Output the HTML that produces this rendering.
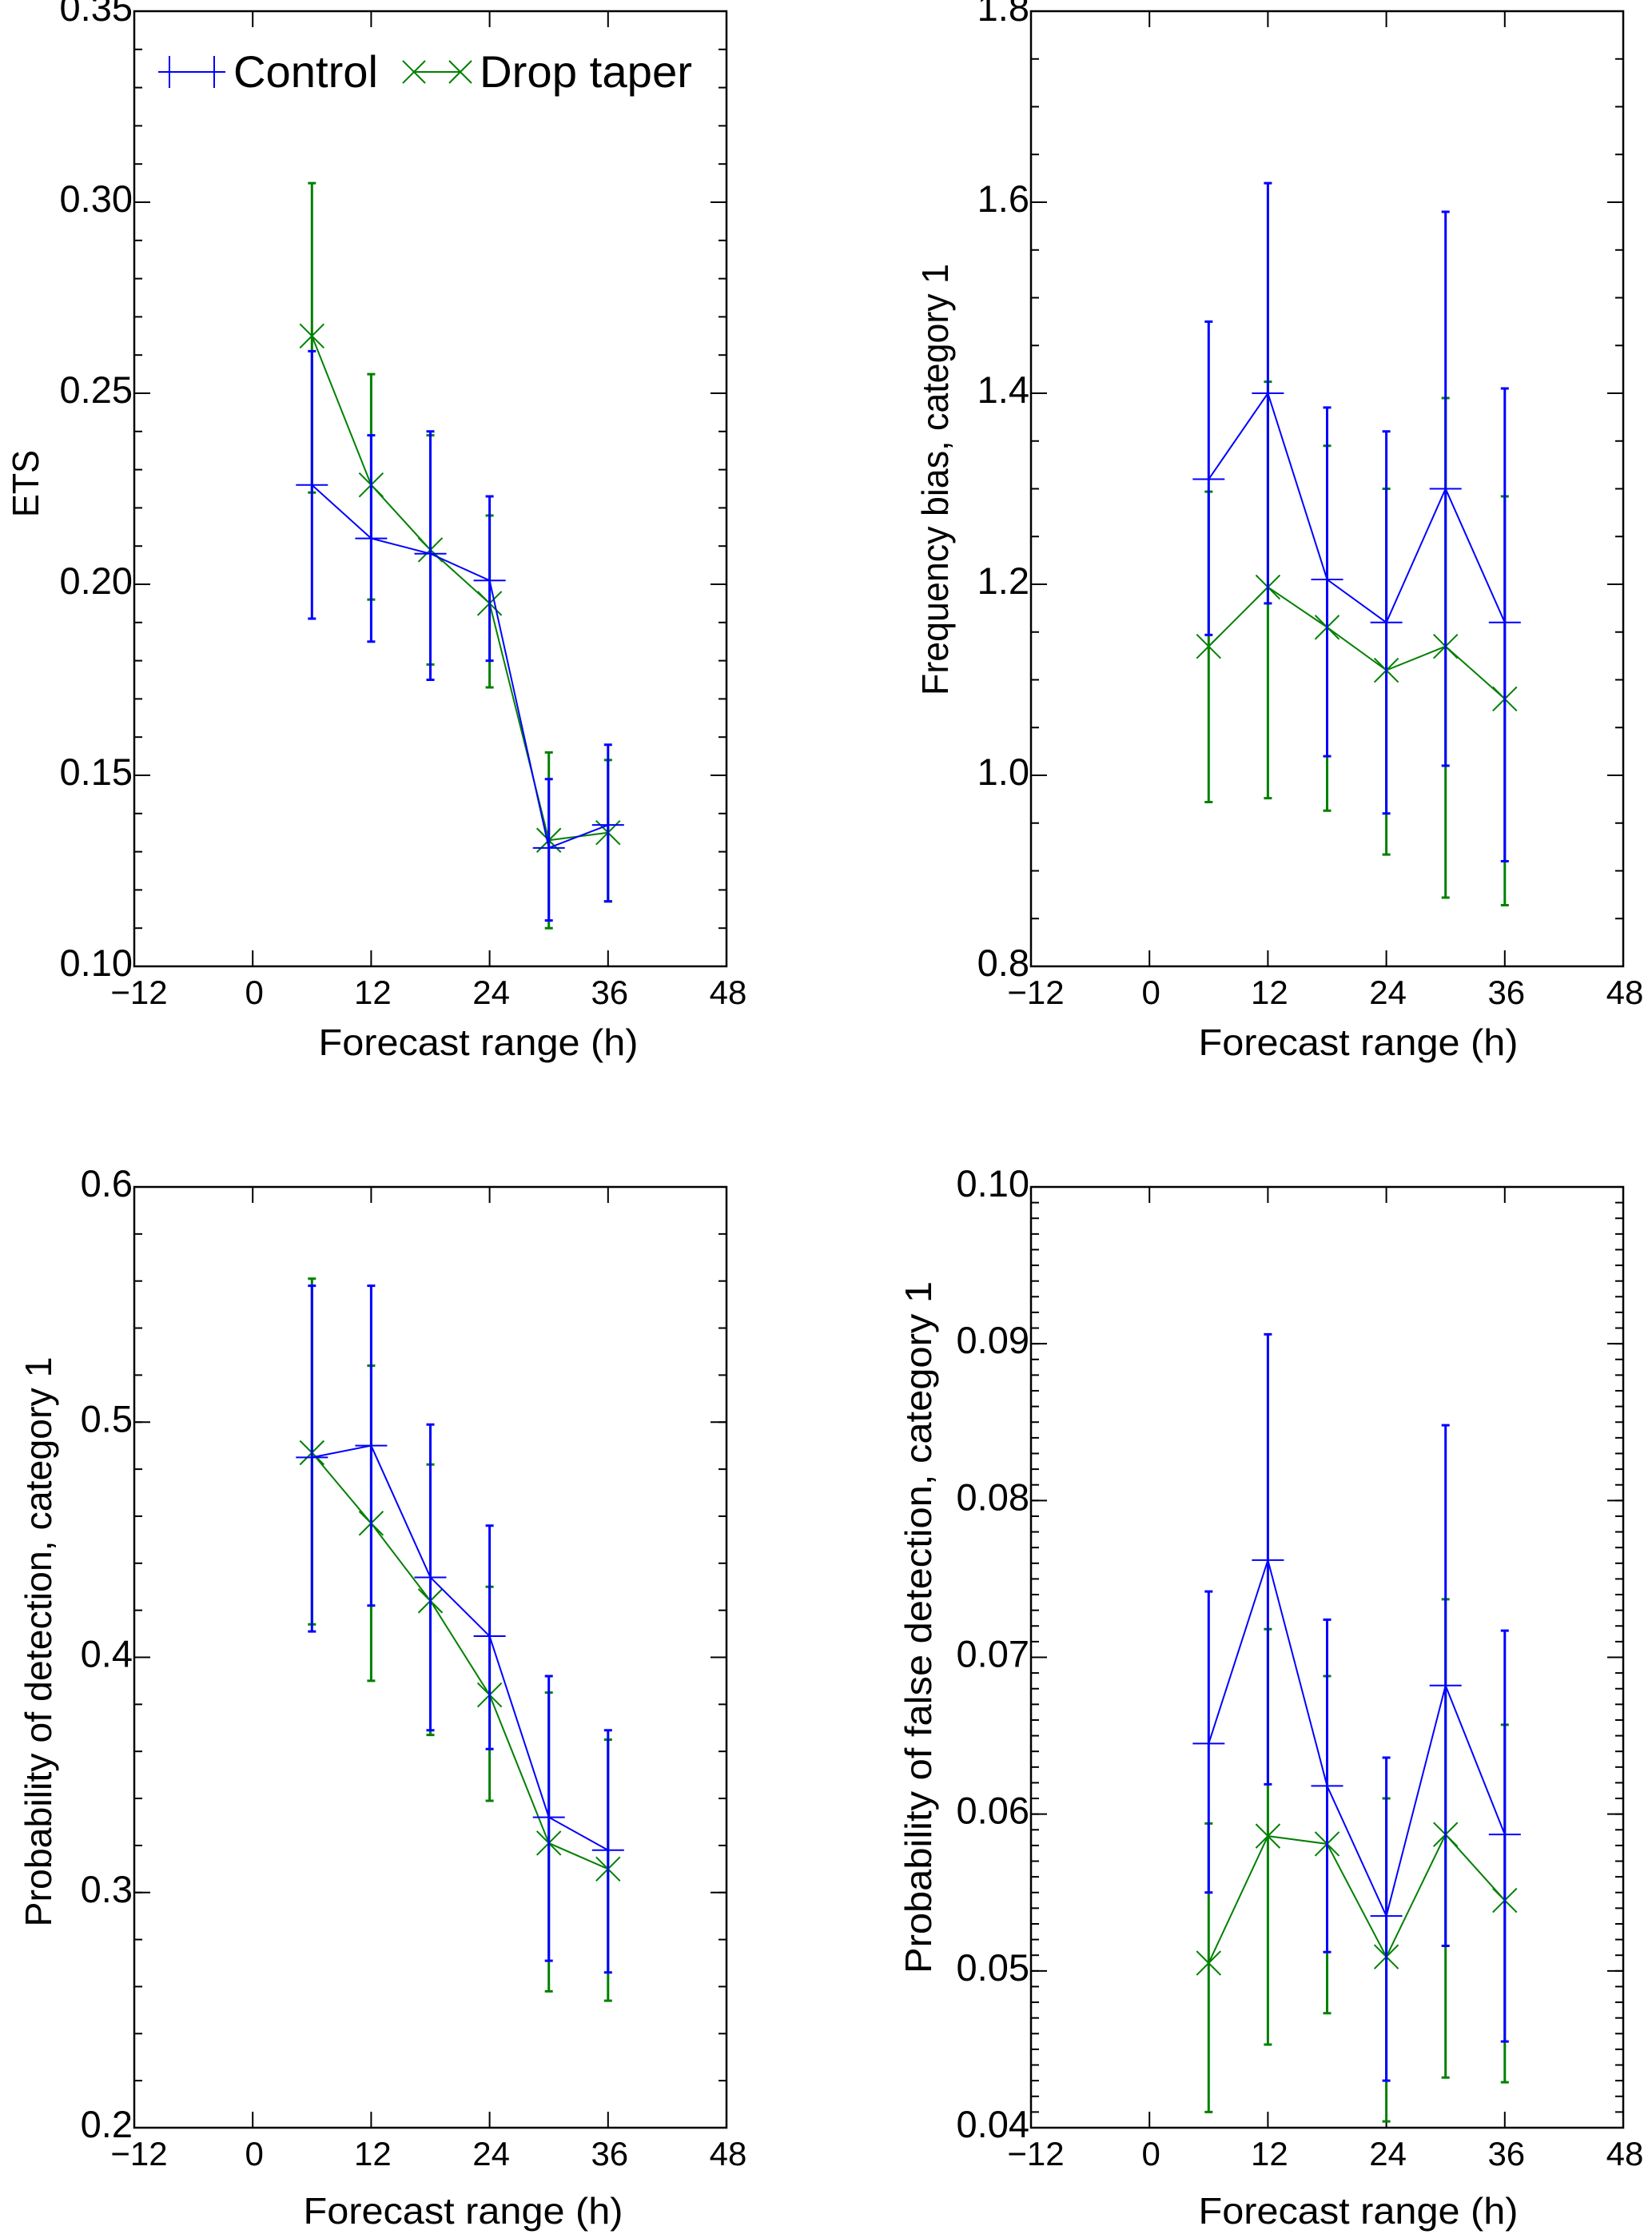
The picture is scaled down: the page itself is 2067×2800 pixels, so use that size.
<!DOCTYPE html>
<html><head><meta charset="utf-8"><style>
html,body{margin:0;padding:0;background:#fff}
svg{display:block}
text{font-family:"Liberation Sans",sans-serif;fill:#000}
</style></head><body>
<svg id="fig" width="2067" height="2800" viewBox="0 0 2067 2800" xmlns="http://www.w3.org/2000/svg"></svg>
<script>
const hours = [6, 12, 18, 24, 30, 36];
const xTicks = [-12, 0, 12, 24, 36, 48];
// ETS
const etsControl = [0.226, 0.212, 0.208, 0.201, 0.131, 0.137];
const etsControlLo = [0.191, 0.185, 0.175, 0.180, 0.112, 0.117];
const etsControlHi = [0.261, 0.239, 0.240, 0.223, 0.149, 0.158];
const etsDrop = [0.265, 0.226, 0.209, 0.195, 0.133, 0.135];
const etsDropLo = [0.224, 0.196, 0.179, 0.173, 0.110, 0.117];
const etsDropHi = [0.305, 0.255, 0.239, 0.218, 0.156, 0.154];
const etsTicks = ["0.10","0.15","0.20","0.25","0.30","0.35"];
// Frequency bias
const fbControl = [1.31, 1.40, 1.205, 1.16, 1.30, 1.16];
const fbControlLo = [1.147, 1.18, 1.02, 0.96, 1.01, 0.91];
const fbControlHi = [1.475, 1.62, 1.385, 1.36, 1.59, 1.405];
const fbDrop = [1.135, 1.197, 1.155, 1.11, 1.135, 1.08];
const fbDropLo = [0.972, 0.976, 0.963, 0.917, 0.872, 0.864];
const fbDropHi = [1.297, 1.412, 1.345, 1.30, 1.395, 1.292];
const fbTicks = ["0.8","1.0","1.2","1.4","1.6","1.8"];
// POD
const podControl = [0.485, 0.490, 0.434, 0.409, 0.332, 0.318];
const podControlLo = [0.411, 0.422, 0.369, 0.361, 0.271, 0.266];
const podControlHi = [0.558, 0.558, 0.499, 0.456, 0.392, 0.369];
const podDrop = [0.487, 0.457, 0.424, 0.384, 0.321, 0.310];
const podDropLo = [0.414, 0.390, 0.367, 0.339, 0.258, 0.254];
const podDropHi = [0.561, 0.524, 0.482, 0.430, 0.385, 0.365];
const podTicks = ["0.2","0.3","0.4","0.5","0.6"];
// POFD
const pofdControl = [0.0645, 0.0762, 0.0618, 0.0535, 0.0682, 0.0587];
const pofdControlLo = [0.0550, 0.0619, 0.0512, 0.0430, 0.0516, 0.0455];
const pofdControlHi = [0.0742, 0.0906, 0.0724, 0.0636, 0.0848, 0.0717];
const pofdDrop = [0.0505, 0.0586, 0.0581, 0.0509, 0.0587, 0.0545];
const pofdDropLo = [0.0410, 0.0453, 0.0473, 0.0404, 0.0432, 0.0429];
const pofdDropHi = [0.0594, 0.0718, 0.0688, 0.0610, 0.0737, 0.0657];
const pofdTicks = ["0.04","0.05","0.06","0.07","0.08","0.09","0.10"];

const NS = "http://www.w3.org/2000/svg";
const svg = document.getElementById('fig');
function mk(tag, attrs, parent){
  const e = document.createElementNS(NS, tag);
  for (const k in attrs) e.setAttribute(k, attrs[k]);
  (parent||svg).appendChild(e);
  return e;
}
const BLUE = "#0000ff", GREEN = "#008000";

function panel(cfg){
  const g = mk('g', {});
  
  
  const L = cfg.left, R = cfg.left + 741, T = cfg.top, B = cfg.bottom;
  const ymin = parseFloat(cfg.ticks[0]), ymax = parseFloat(cfg.ticks[cfg.ticks.length-1]);
  const xs = v => L + (v + 12) / 60 * (R - L);
  const ys = v => B - (v - ymin) / (ymax - ymin) * (B - T);
  const fr = mk('rect', {x:L, y:T, width:R-L, height:B-T, fill:'none', stroke:'#000', 'stroke-width':2.5}, g);
  
  
  const nMinor = Math.round((ymax - ymin) / cfg.minor);
  for (let i = 0; i <= nMinor; i++){
    const y = ys(ymin + i * cfg.minor);
    mk('line', {x1:L, x2:L+10, y1:y, y2:y, stroke:'#000', 'stroke-width':2}, g);
    mk('line', {x1:R, x2:R-10, y1:y, y2:y, stroke:'#000', 'stroke-width':2}, g);
  }
  cfg.ticks.forEach(t => {
    const y = ys(parseFloat(t));
    mk('line', {x1:L, x2:L+20, y1:y, y2:y, stroke:'#000', 'stroke-width':2}, g);
    mk('line', {x1:R, x2:R-20, y1:y, y2:y, stroke:'#000', 'stroke-width':2}, g);
    const tx = mk('text', {x:L-2, y:y+12, 'font-size':47, 'text-anchor':'end'}, g);
    tx.textContent = t;
    
    
  });
  xTicks.forEach(t => {
    const x = xs(t);
    mk('line', {x1:x, x2:x, y1:B, y2:B-20, stroke:'#000', 'stroke-width':2}, g);
    mk('line', {x1:x, x2:x, y1:T, y2:T+20, stroke:'#000', 'stroke-width':2}, g);
    const tx = mk('text', {x:x+(t<0?6:2), y:B+47, 'font-size':42, 'text-anchor':'middle'}, g);
    tx.textContent = t < 0 ? "\u2212" + Math.abs(t) : String(t);
    
    
  });
  const xt = mk('text', {x:(L+R)/2 + cfg.xtOff, y:B+111+cfg.xtDy, 'font-size':46, 'text-anchor':'middle', textLength:400, lengthAdjust:'spacingAndGlyphs'}, g);
  xt.textContent = "Forecast range (h)";
  
  
  const yt = mk('text', {x:0, y:0, 'font-size':46, 'text-anchor':'middle', textLength:cfg.ytitleLen, lengthAdjust:'spacingAndGlyphs', transform:`translate(${cfg.ytitleX},${cfg.ytitleY}) rotate(-90)`}, g);
  yt.textContent = cfg.ytitle;
  
  

  function series(vals, lo, hi, color, marker, sname){
    const sg = mk('g', {}, g);
    
    
    hours.forEach((h, i) => {
      const x = xs(h);
      const e = mk('path', {d:`M${x},${ys(lo[i])}V${ys(hi[i])}M${x-5},${ys(lo[i])}H${x+5}M${x-5},${ys(hi[i])}H${x+5}`, stroke:color, 'stroke-width':3, fill:'none'}, sg);
      
      
    });
    const pts = hours.map((h, i) => xs(h) + ',' + ys(vals[i])).join(' ');
    const pl = mk('polyline', {points:pts, fill:'none', stroke:color, 'stroke-width':2}, sg);
    
    
    hours.forEach((h, i) => {
      const x = xs(h), y = ys(vals[i]);
      const d = marker === '+' ? `M${x-20},${y}H${x+20}M${x},${y-20}V${y+20}`
                               : `M${x-15},${y-15}L${x+15},${y+15}M${x-15},${y+15}L${x+15},${y-15}`;
      const m = mk('path', {d:d, stroke:color, 'stroke-width':2, fill:'none'}, sg);
      
      
    });
  }
  series(cfg.drop, cfg.dropLo, cfg.dropHi, GREEN, 'x', 'drop-taper-series');
  series(cfg.control, cfg.controlLo, cfg.controlHi, BLUE, '+', 'control-series');
  return g;
}

panel({name:'ets-panel', left:168, top:14, bottom:1209, ticks:etsTicks, minor:0.01,
  control:etsControl, controlLo:etsControlLo, controlHi:etsControlHi,
  drop:etsDrop, dropLo:etsDropLo, dropHi:etsDropHi, xtOff:60, xtDy:0,
  ytitle:'ETS', ytitleX:48, ytitleY:605, ytitleLen:84});
panel({name:'frequency-bias-panel', left:1290, top:14, bottom:1209, ticks:fbTicks, minor:0.05,
  control:fbControl, controlLo:fbControlLo, controlHi:fbControlHi,
  drop:fbDrop, dropLo:fbDropLo, dropHi:fbDropHi, xtOff:39, xtDy:0,
  ytitle:'Frequency bias, category 1', ytitleX:1186, ytitleY:600, ytitleLen:540});
panel({name:'pod-panel', left:168, top:1485, bottom:2662, ticks:podTicks, minor:0.02,
  control:podControl, controlLo:podControlLo, controlHi:podControlHi,
  drop:podDrop, dropLo:podDropLo, dropHi:podDropHi, xtOff:41, xtDy:9,
  ytitle:'Probability of detection, category 1', ytitleX:64, ytitleY:2054, ytitleLen:713});
panel({name:'pofd-panel', left:1290, top:1485, bottom:2662, ticks:pofdTicks, minor:0.001,
  control:pofdControl, controlLo:pofdControlLo, controlHi:pofdControlHi,
  drop:pofdDrop, dropLo:pofdDropLo, dropHi:pofdDropHi, xtOff:39, xtDy:9,
  ytitle:'Probability of false detection, category 1', ytitleX:1165, ytitleY:2036, ytitleLen:866});

const lg = mk('g', {});


const le1 = mk('g', {}, lg);


mk('path', {d:'M198,90H282M212,70V110M268,70V110', stroke:BLUE, 'stroke-width':2, fill:'none'}, le1);
const t1 = mk('text', {x:292, y:109, 'font-size':56, textLength:181, lengthAdjust:'spacingAndGlyphs'}, le1);
t1.textContent = 'Control';
const le2 = mk('g', {}, lg);


mk('path', {d:'M519,90H575M504,76L532,104M504,104L532,76M562,76L590,104M562,104L590,76', stroke:GREEN, 'stroke-width':2, fill:'none'}, le2);
const t2 = mk('text', {x:600, y:109, 'font-size':56, textLength:266, lengthAdjust:'spacingAndGlyphs'}, le2);
t2.textContent = 'Drop taper';
</script>
</body></html>
